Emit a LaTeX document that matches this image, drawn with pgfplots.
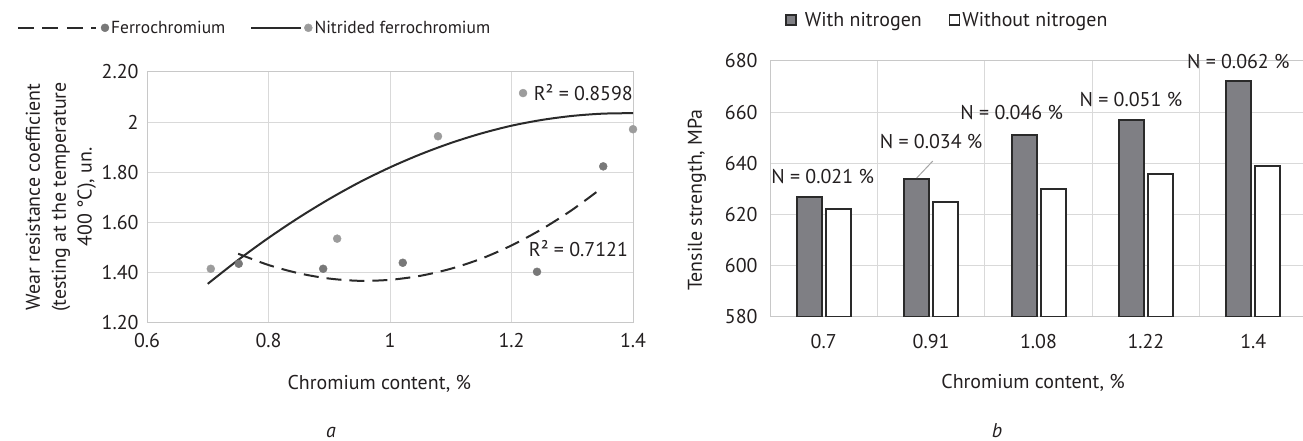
\documentclass[border=0pt]{standalone}
\usepackage{fontspec}
\setmainfont{PT Sans}
\usepackage{pgfplots}
\pgfplotsset{compat=1.18}
\definecolor{txt}{HTML}{231F20}
\definecolor{gridc}{HTML}{D9D9D9}
\definecolor{axl}{HTML}{C8C8C8}
\definecolor{darkbar}{HTML}{7F7F84}
\definecolor{edge}{HTML}{2A2A2A}
\definecolor{ptN}{HTML}{9C9C9C}
\definecolor{ptF}{HTML}{787878}
\newcommand\fsz{\fontsize{20}{26}\selectfont}
\newcommand\lsz{\fontsize{17.5}{21}\selectfont}
\pgfplotsset{
  every axis/.append style={
    scale only axis, font=\fsz,
    /pgf/number format/assume math mode=true,
    major tick length=0pt, minor tick length=0pt,
    axis line style={axl, line width=1bp},
    major grid style={gridc, line width=1bp},
    minor grid style={gridc, line width=1bp},
    tick label style={text=txt},
  },
}
\begin{document}
\begin{tikzpicture}[x=1bp,y=1bp,text=txt]
\useasboundingbox (0,0) rectangle (1303,441);
% ---------------- left chart ----------------
\begin{axis}[
  at={(147bp,118bp)}, anchor=south west,
  width=486bp, height=251bp,
  xmin=0.6, xmax=1.4, ymin=1.2, ymax=2.2,
  xtick={0.6,0.8,1,1.2,1.4}, xticklabels={0.6,0.8,1,1.2,1.4},
  ytick={1.2,1.4,1.6,1.8,2,2.2}, yticklabels={1.20,1.40,1.60,1.80,2,2.20},
  xticklabel style={yshift=-7bp},
  yticklabel style={xshift=-5bp},
  grid=major, clip=false,
  xlabel={Chromium content, \%},
  ylabel={Wear resistance coefficient\\(testing at the temperature\\400 °C), un.},
  every axis x label/.style={at={(axis description cs:0.478,-0.243)}, anchor=center},
  every axis y label/.style={at={(axis description cs:-0.177,0.502)}, rotate=90, anchor=center, align=center},
  legend columns=2,
  legend style={at={(axis description cs:-0.2675,1.176)}, anchor=west, draw=none, fill=none, inner sep=0pt, outer sep=0pt,
    font=\lsz,
    nodes={inner xsep=1bp, inner ysep=2bp, text=txt},
    /tikz/every even column/.append style={column sep=24bp}},
]
\addlegendimage{legend image code/.code={\draw[edge, line width=2bp, dash pattern=on 16bp off 8.5bp] (0bp,0bp) -- (78bp,0bp); \fill[ptF] (87bp,0bp) circle (4bp); \path (92bp,0bp);}}
\addlegendentry{Ferrochromium}
\addlegendimage{legend image code/.code={\draw[edge, line width=2bp] (0bp,0bp) -- (50bp,0bp); \fill[ptN] (57bp,0bp) circle (4bp); \path (62bp,0bp);}}
\addlegendentry{Nitrided ferrochromium}
% measured points
\addplot[only marks, mark=*, mark size=4bp, ptN, forget plot] coordinates {
 (0.705,1.416) (0.913,1.536) (1.079,1.944) (1.219,2.116) (1.400,1.972)};
\addplot[only marks, mark=*, mark size=4bp, ptF, forget plot] coordinates {
 (0.751,1.436) (0.890,1.416) (1.021,1.440) (1.242,1.404) (1.351,1.824)};
% trend lines
\addplot[edge, line width=2bp, smooth, forget plot] coordinates {
 (0.70,1.356) (0.75,1.451) (0.80,1.539) (0.85,1.620) (0.90,1.694) (0.95,1.761)
 (1.00,1.820) (1.05,1.872) (1.10,1.917) (1.15,1.955) (1.20,1.986) (1.25,2.009)
 (1.30,2.025) (1.35,2.034) (1.40,2.036)};
\addplot[edge, line width=2bp, smooth, dash pattern=on 15bp off 8bp, forget plot] coordinates {
 (0.75,1.476) (0.80,1.431) (0.85,1.398) (0.90,1.377) (0.95,1.368) (1.00,1.372)
 (1.05,1.388) (1.10,1.416) (1.15,1.456) (1.20,1.509) (1.25,1.574) (1.30,1.651)
 (1.35,1.740)};
\node[anchor=east, inner sep=0pt] at (axis cs:1.4,2.116) {R² = 0.8598};
\node[anchor=east, inner sep=0pt] at (axis cs:1.392,1.495) {R² = 0.7121};
\end{axis}
% ---------------- right chart ----------------
\begin{axis}[
  at={(770bp,124bp)}, anchor=south west,
  width=537bp, height=256bp,
  xmin=-0.5, xmax=4.5, ymin=580, ymax=680,
  xtick={0,1,2,3,4}, xticklabels={0.7,0.91,1.08,1.22,1.4},
  minor xtick={0.5,1.5,2.5,3.5},
  ytick={580,600,620,640,660,680}, yticklabels={580,600,620,640,660,680},
  ymajorgrids, xminorgrids,
  ybar=4bp, bar width=25bp,
  clip mode=individual,
  xlabel={Chromium content, \%},
  ylabel={Tensile strength, MPa},
  every axis x label/.style={at={(axis description cs:0.49,-0.258)}, anchor=center},
  every axis y label/.style={at={(axis description cs:-0.136,0.457)}, rotate=90, anchor=center},
  xticklabel style={yshift=-14bp},
  yticklabel style={xshift=-9bp},
  legend columns=2,
  legend style={at={(axis description cs:0.028,1.160)}, anchor=west, draw=none, fill=none, inner sep=0pt, outer sep=0pt,
    nodes={inner xsep=2bp, inner ysep=2bp, text=txt},
    /tikz/every even column/.append style={column sep=25bp}},
]
\addplot[fill=darkbar, draw=edge, line width=2bp,
  legend image code/.code={\draw[fill=darkbar, draw=edge, line width=1.5bp] (0bp,-5bp) rectangle (10bp,5bp); \path (16bp,0bp);}]
  coordinates {(0,627) (1,634) (2,651) (3,657) (4,672)};
\addlegendentry{With nitrogen}
\addplot[fill=white, draw=edge, line width=2bp,
  legend image code/.code={\draw[fill=white, draw=edge, line width=1.5bp] (0bp,-5bp) rectangle (10bp,5bp);}]
  coordinates {(0,622) (1,625) (2,630) (3,636) (4,639)};
\addlegendentry{Without nitrogen}
\node[inner sep=0pt] at (axis cs:-0.01,634.7) {N = 0.021 \%};
\node[inner sep=0pt] at (axis cs:1.0,648.4) {N = 0.034 \%};
\node[inner sep=0pt] at (axis cs:1.75,659.7) {N = 0.046 \%};
\node[inner sep=0pt] at (axis cs:2.86,664.8) {N = 0.051 \%};
\node[inner sep=0pt] at (axis cs:3.86,679.6) {N = 0.062 \%};
\draw[gray!70, line width=1bp] (axis cs:1.015,640.9) -- (axis cs:0.866,634.3);
\end{axis}
\node[font=\fsz] at (331,8) {\itshape a};
\node[font=\fsz] at (997,10) {\itshape b};
\end{tikzpicture}
\end{document}
